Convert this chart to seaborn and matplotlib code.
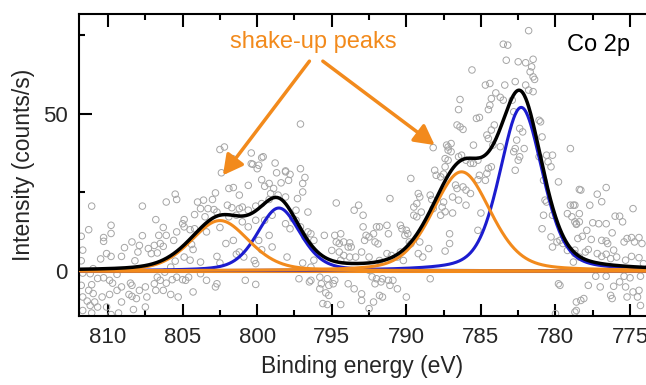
import numpy as np
import pandas as pd
import matplotlib
matplotlib.use('Agg')
import matplotlib.pyplot as plt
import seaborn as sns
from matplotlib.ticker import MultipleLocator

pts_x = [
    811.1, 807.7, 811.3, 809.8, 809.8, 811.8, 810.3, 810.3, 807.7, 808.4, 807.9, 808.9, 811.7, 810.1, 809.8,
    809.1, 810.5, 808.0, 807.3, 811.8, 808.2, 811.0, 811.7, 811.2, 810.3, 810.7, 809.4, 809.9, 809.7, 809.1,
    808.5, 808.4, 807.5, 811.1, 811.8, 811.3, 811.0, 810.4, 811.7, 811.4, 810.9, 809.9, 809.4, 808.6, 808.4,
    807.9, 808.1, 807.4, 811.2, 810.7, 810.1, 809.1, 808.3, 807.5, 811.7, 811.1, 809.3, 809.8,
    802.5, 802.4, 805.5, 805.4, 806.1, 804.0, 803.6, 802.8, 803.0, 803.8, 803.3, 802.9, 802.7, 804.2, 803.5,
    806.8, 804.9, 805.0, 806.3, 804.9, 804.5, 804.2, 802.5, 805.4, 803.4, 806.1, 806.6, 806.5, 806.9, 806.3,
    805.6, 804.4, 807.1, 806.7, 804.3, 804.9, 804.5, 805.5, 803.8, 805.8, 802.7, 802.5, 806.2, 806.7, 806.9,
    806.5, 806.1, 805.7, 805.4, 805.0, 804.8, 804.6, 803.8, 803.4, 802.7, 806.8, 806.3, 805.8, 805.3, 804.3,
    802.8,
    802.2, 800.4, 799.7, 798.8, 800.3, 799.9, 800.0, 798.1, 798.7, 797.8, 799.7, 799.2, 799.5, 798.9, 801.9,
    801.6, 800.6, 798.4, 797.9, 801.2, 799.1, 798.6, 798.1, 802.0, 801.7, 801.2, 801.0, 800.6, 800.1, 799.7,
    799.2, 801.9, 801.4, 801.0, 800.6, 800.1, 799.0, 799.5, 798.1, 797.6, 797.8, 802.1, 801.6, 799.2, 799.9,
    799.0, 799.7, 801.2, 801.4, 800.9, 800.2, 800.1, 798.0, 800.8, 800.1, 801.65, 800.4, 799.6, 798.1,
    797.1, 797.1, 796.8, 796.95, 796.95, 797.3, 797.4, 796.6, 797.4, 797.1, 796.6, 796.8, 796.4, 796.2, 795.5,
    794.8, 794.4, 794.7, 794.5, 794.2, 793.8, 793.9, 793.7, 793.5, 793.2, 792.9, 794.7, 792.9, 792.7, 792.8,
    795.0, 794.5, 794.2, 793.8, 793.4, 793.0, 794.4, 796.2, 797.2, 796.4, 796.5, 795.8, 795.3, 794.8, 794.9,
    795.2, 795.7, 795.8, 795.4, 795.2, 793.9, 793.5, 793.0, 793.0, 795.6, 795.3, 794.4, 796.4, 796.95,
    788.2, 789.7, 788.1, 788.0, 791.1, 789.2, 789.1, 788.4, 788.3, 789.3, 789.5, 789.0, 788.2, 789.5, 789.3,
    792.2, 792.0, 791.8, 791.3, 792.5, 792.1, 791.9, 791.2, 790.4, 790.3, 790.0, 789.9, 790.1, 789.8, 789.7,
    789.1, 788.5, 792.5, 791.3, 791.0, 790.6, 790.4, 789.2, 788.9, 791.8, 790.2, 792.5, 792.3, 792.0, 791.6,
    792.1, 791.7, 791.2, 790.9, 791.1, 790.6, 788.4, 790.0, 791.6, 791.8, 792.2, 792.5, 787.2, 787.2,
    783.5, 783.2, 783.3, 785.6, 784.4, 784.7, 783.4, 784.0, 783.7, 783.5, 786.4, 784.3, 784.4, 784.5, 786.5,
    785.3, 785.1, 786.6, 786.4, 786.2, 784.1, 784.3, 784.6, 784.2, 784.5, 783.7, 785.5, 787.0, 787.3, 787.2,
    787.0, 787.4, 786.3, 786.5, 786.0, 785.7, 785.5, 785.2, 787.4, 787.5, 787.7, 784.5, 784.3, 784.6, 785.1,
    785.2, 784.7, 786.7, 786.6, 786.2, 786.0, 785.7, 786.9, 786.5, 787.5, 787.6, 787.4, 787.7, 786.9, 786.0,
    785.0, 785.2, 787.1, 787.1, 787.4,
    781.8, 782.5, 782.0, 781.5, 781.6, 781.7, 781.5, 781.4, 782.7, 782.0, 781.8, 781.5, 782.9, 782.8, 781.1,
    781.0, 782.4, 782.2, 780.9, 782.6, 782.7, 782.8, 782.1, 782.4, 782.5, 782.7, 781.1, 780.6, 780.2, 780.5,
    780.3, 779.8, 780.8, 780.7, 780.6, 780.8, 780.2, 780.9, 780.3, 779.7, 779.5, 779.2, 779.0, 778.8, 778.9,
    778.7, 778.6, 778.4, 778.3, 779.0, 779.9, 779.2, 778.7, 778.8, 779.8, 779.7, 780.0, 778.6, 778.3, 780.2,
    778.4, 777.2, 776.6, 776.9, 778.7, 777.7, 774.8, 776.0, 775.7, 775.5, 778.4, 778.6, 777.5, 777.1, 776.6,
    777.9, 778.2, 776.2, 778.5, 777.6, 776.9, 776.6, 776.5, 775.2, 774.9, 774.4, 775.4, 774.7, 774.2, 778.7,
    777.8, 778.0, 778.4, 777.2, 776.9, 776.6, 776.3, 776.1, 775.9, 775.3, 774.9, 774.4, 774.1, 777.3, 776.6,
    775.4, 775.0, 774.3, 777.8, 777.0, 776.1, 775.7, 775.3, 774.8, 774.4, 774.5, 775.2, 776.3, 776.2, 778.6,
    778.1, 774.3, 778.7,
]
pts_y = [
    20.6, 20.6, 13.1, 14.5, 11.9, 11.0, 10.6, 9.4, 11.2, 9.2, 8.1, 7.4, 6.6, 5.5, 4.6,
    4.6, 3.8, 6.0, 7.1, 3.2, 3.2, 0.7, -0.7, -0.9, -2.2, -2.4, -1.1, -3.0, -3.9, -5.1,
    -3.9, -4.6, -5.1, -4.4, -4.6, -6.2, -7.2, -8.3, -8.3, -9.6, -9.9, -7.5, -6.2, -7.5, -8.1,
    -6.2, -8.8, -8.3, -11.0, -11.5, -11.5, -9.9, -12.3, -11.5, -12.6, -13.4, -13.4, -13.9,
    38.6, 31.2, 24.4, 22.7, 21.9, 21.9, 22.5, 24.8, 22.7, 19.8, 19.8, 19.5, 18.7, 17.9, 17.2,
    16.3, 16.3, 15.0, 13.8, 14.0, 13.1, 13.4, 13.8, 12.4, 12.4, 11.3, 11.3, 8.7, 8.1, 7.8,
    9.7, 8.4, 5.5, 5.7, 6.8, 4.4, 3.4, 3.1, 2.8, 1.2, 4.6, 2.5, -0.4, -2.0, -4.1,
    -3.0, -3.9, -2.8, -2.0, -2.8, -3.0, -2.0, -0.9, -3.0, -4.1, -6.2, -6.2, -7.5, -8.3, -6.7,
    -5.1,
    39.4, 37.5, 36.0, 34.3, 33.9, 33.6, 32.5, 31.8, 31.2, 30.7, 29.0, 27.8, 26.9, 26.2, 26.2,
    26.5, 27.2, 28.0, 28.8, 24.1, 24.6, 24.1, 23.5, 20.9, 20.1, 19.8, 20.3, 19.3, 20.6, 21.4,
    22.7, 17.2, 17.7, 15.6, 14.0, 16.1, 17.7, 16.1, 15.0, 16.6, 13.4, 8.7, 9.7, 11.3, 9.7,
    7.6, 6.7, 6.0, 5.3, 4.4, 3.3, 2.3, 4.4, -3.0, -4.3, 35.7, 34.1, 36.3, 31.5,
    46.7, 32.5, 29.7, 27.8, 25.1, 23.0, 19.3, 18.7, 16.1, 14.0, 12.4, 10.8, 11.8, 9.7, 11.3,
    11.3, 11.8, 9.2, 8.7, 9.2, 8.9, 7.6, 7.6, 19.3, 20.9, 17.7, 21.6, 14.0, 11.3, 9.7,
    6.5, 6.0, 4.9, 4.4, 4.4, 6.0, 3.4, 3.4, -2.5, -3.0, -3.5, -2.0, -2.5, -3.0, -4.1,
    -4.6, -4.1, -5.7, -7.0, -7.8, -4.1, -5.7, -7.3, -9.4, -10.4, -10.7, -10.7, 1.2, 2.5,
    39.2, 29.4, 32.0, 30.4, 23.0, 24.6, 23.5, 24.1, 22.7, 21.4, 20.3, 18.7, 19.8, 17.7, 17.2,
    11.8, 14.0, 14.0, 14.5, 10.8, 9.2, 8.6, 11.8, 14.5, 13.4, 12.9, 11.8, 11.3, 9.2, 8.6,
    9.2, 7.1, 4.4, 5.5, 4.9, 4.4, 6.0, 5.5, 4.4, 3.3, 3.3, 0.2, -1.9, -2.5, -2.5,
    -4.1, -3.5, -3.0, -3.0, -4.6, -5.7, -2.5, -8.3, -8.3, -7.8, -9.9, -12.0, 39.4, 35.2,
    72.1, 71.8, 67.0, 63.9, 59.6, 59.1, 59.1, 56.6, 55.2, 54.3, 54.5, 54.8, 52.7, 51.3, 51.3,
    48.5, 48.8, 46.4, 45.8, 45.0, 46.4, 44.8, 43.2, 40.0, 42.1, 39.5, 40.0, 40.5, 40.0, 38.4,
    37.9, 35.7, 36.8, 36.3, 35.2, 34.2, 34.2, 35.2, 33.1, 30.8, 29.9, 32.6, 33.1, 31.0, 30.4,
    29.0, 28.8, 27.3, 26.2, 26.7, 25.7, 24.6, 23.5, 22.5, 21.9, 20.3, 18.8, 17.7, 18.4, 20.9,
    18.4, 12.9, 11.8, 8.7, 6.3,
    76.4, 66.5, 66.2, 67.3, 64.9, 63.3, 61.7, 60.9, 60.2, 59.1, 57.5, 57.0, 54.3, 50.6, 47.9,
    47.4, 45.3, 44.2, 42.6, 41.6, 38.9, 37.9, 38.9, 36.3, 35.2, 32.0, 36.3, 36.8, 36.8, 34.7,
    33.1, 28.3, 28.8, 22.5, 21.9, 17.7, 17.7, 13.4, 10.8, 9.7, 8.7, 18.2, 20.9, 20.9, 17.2,
    15.6, 15.0, 18.2, 25.7, 38.9, 9.2, 6.5, 5.5, 2.8, -4.1, -4.6, -13.6, -12.6, -9.4, 7.6,
    25.9, 24.4, 26.5, 22.0, 20.9, 20.9, 19.8, 17.4, 17.4, 15.6, 15.6, 14.8, 15.3, 15.0, 15.0,
    12.9, 11.0, 12.1, 10.3, 10.0, 9.7, 9.5, 8.7, 10.3, 10.6, 10.6, 9.2, 9.2, 8.7, 6.6,
    6.8, 6.0, 4.4, 5.5, 4.6, 5.3, 3.9, 6.6, 4.4, 3.4, 4.6, 4.2, 2.3, -1.7, -1.7,
    -1.7, -2.2, -1.7, -4.6, -5.1, -4.9, -3.5, -5.1, -6.7, -6.2, -8.3, -8.3, -7.8, -8.8, -9.9,
    -8.8, -11.0, -13.1,
]

# fitted components: centre (eV), height, FWHM (eV), lorentzian fraction
main_peaks = [(782.3, 52.0, 3.4, 0.35), (798.55, 20.0, 3.4, 0.35)]
satellites = [(786.3, 31.5, 4.6, 0.3), (802.5, 16.0, 4.6, 0.3)]
baseline_level = 0.0

orange = '#f28a1c'
blue = '#1c1ccf'


def pvoigt(x, c, h, w, eta):
    u = (x - c) / w
    g = np.exp(-4 * np.log(2) * u ** 2)
    l = 1 / (1 + 4 * u ** 2)
    return h * ((1 - eta) * g + eta * l)


sns.set_style('ticks')
plt.rcParams['font.family'] = ['Liberation Sans', 'DejaVu Sans']

fig = plt.figure(figsize=(6.46, 3.85), dpi=100)
ax = fig.add_axes([79 / 646, 1 - 316 / 385, 1 - 79 / 646, (316 - 14) / 385])

df = pd.DataFrame({'be': pts_x, 'counts': pts_y})
sns.scatterplot(data=df, x='be', y='counts', ax=ax, marker='o', s=22,
                facecolor='none', edgecolor='#a5a5a5', linewidth=0.7, zorder=1)

grid = np.linspace(812.5, 773.5, 1200)
envelope = np.full_like(grid, baseline_level)
ax.axhline(baseline_level, color=orange, lw=2.2, zorder=2)
for p in main_peaks:
    yv = baseline_level + pvoigt(grid, *p)
    envelope += pvoigt(grid, *p)
    sns.lineplot(x=grid, y=yv, ax=ax, color=blue, lw=2.2, zorder=3, sort=False)
for p in satellites:
    yv = baseline_level + pvoigt(grid, *p)
    envelope += pvoigt(grid, *p)
    sns.lineplot(x=grid, y=yv, ax=ax, color=orange, lw=2.2, zorder=3, sort=False)
sns.lineplot(x=grid, y=envelope, ax=ax, color='black', lw=2.5, zorder=4, sort=False)

ax.set_xlim(811.95, 773.93)
ax.set_ylim(-14.35, 81.7)

ax.xaxis.set_major_locator(MultipleLocator(5))
ax.xaxis.set_minor_locator(MultipleLocator(2.5))
ax.yaxis.set_major_locator(MultipleLocator(50))
ax.yaxis.set_minor_locator(MultipleLocator(25))
ax.tick_params(which='both', direction='in', top=True, right=False, width=1.5, color='black')
ax.tick_params(which='major', length=9, labelsize=16, pad=8)
ax.tick_params(which='minor', length=4.5)
for side in ['left', 'bottom', 'top']:
    ax.spines[side].set_linewidth(1.5)
    ax.spines[side].set_color('black')
ax.spines['right'].set_visible(False)

ax.set_xlabel('Binding energy (eV)', fontsize=16.5)
ax.set_ylabel('Intensity (counts/s)', fontsize=16.5)
ax.xaxis.set_label_coords(0.5, -0.13)
ax.yaxis.set_label_coords(-0.078, 0.5)

ax.text(777.1, 71.8, 'Co 2p', fontsize=17, ha='center', va='center', color='black')
ax.text(796.27, 72.9, 'shake-up peaks', fontsize=17, ha='center', va='center', color=orange)
arrow_kw = dict(arrowstyle='-|>,head_length=0.6,head_width=0.32', color=orange, lw=2.5,
                shrinkA=0, shrinkB=0, mutation_scale=20)
ax.annotate('', xy=(802.3, 30.4), xytext=(796.5, 66.7), arrowprops=arrow_kw)
ax.annotate('', xy=(788.1, 40.0), xytext=(795.6, 66.7), arrowprops=arrow_kw)

fig.savefig('out.png', dpi=100)
